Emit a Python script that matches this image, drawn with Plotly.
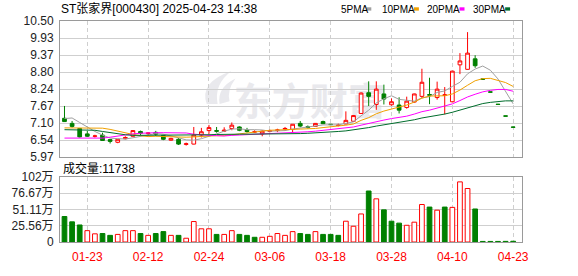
import plotly.graph_objects as go

# ---------------- data ----------------
dates = ["01-20", "01-21", "01-22", "01-23", "01-24", "01-27", "02-05", "02-06", "02-07", "02-10",
         "02-11", "02-12", "02-13", "02-14", "02-17", "02-18", "02-19", "02-20", "02-21", "02-24",
         "02-25", "02-26", "02-27", "02-28", "03-03", "03-04", "03-05", "03-06", "03-07", "03-10",
         "03-11", "03-12", "03-13", "03-14", "03-17", "03-18", "03-19", "03-20", "03-21", "03-24",
         "03-25", "03-26", "03-27", "03-28", "03-31", "04-01", "04-02", "04-03", "04-07", "04-08",
         "04-09", "04-10", "04-11", "04-15", "04-16", "04-17", "04-18", "04-21", "04-22", "04-23"]

open_ = [7.26, 7.09, 6.92, 6.74, 6.66, 6.70, 6.55, 6.46, 6.58, 6.66,
         6.82, 6.75, 6.79, 6.69, 6.53, 6.56, 6.39, 6.40, 6.70, 6.85,
         6.85, 6.83, 6.92, 6.97, 6.86, 6.80, 6.74, 6.82, 6.85, 6.90,
         6.89, 7.09, 6.98, 6.99, 7.15, 7.06, 7.02, 7.07, 7.16, 7.42,
         8.11, 7.72, 8.07, 7.71, 7.70, 7.62, 7.80, 7.99, 8.05, 7.95,
         8.02, 7.81, 9.04, 8.89, 9.24, 8.57, 8.14, 7.73, 7.34, 6.97]
high = [7.67, 7.17, 6.93, 6.84, 6.71, 6.78, 6.56, 6.56, 6.66, 6.86,
        6.85, 6.80, 6.84, 6.71, 6.61, 6.60, 6.45, 6.97, 6.94, 7.04,
        6.97, 6.96, 7.12, 6.99, 6.94, 6.86, 6.86, 6.88, 6.91, 6.97,
        7.06, 7.17, 7.02, 7.10, 7.18, 7.07, 7.08, 7.49, 7.37, 8.12,
        8.49, 8.49, 8.38, 7.92, 7.96, 7.98, 8.08, 8.91, 8.61, 8.48,
        8.30, 8.84, 9.43, 10.13, 9.36, 8.57, 8.14, 7.73, 7.34, 6.97]
low = [7.14, 6.95, 6.62, 6.64, 6.62, 6.51, 6.42, 6.43, 6.56, 6.65,
       6.70, 6.70, 6.67, 6.53, 6.51, 6.37, 6.35, 6.39, 6.62, 6.74,
       6.78, 6.80, 6.86, 6.83, 6.78, 6.77, 6.66, 6.79, 6.80, 6.86,
       6.79, 6.96, 6.92, 6.98, 7.07, 7.03, 6.99, 7.06, 7.15, 7.40,
       7.67, 7.54, 7.72, 7.68, 7.42, 7.58, 7.78, 7.93, 7.73, 7.88,
       7.39, 7.79, 8.73, 8.88, 8.94, 8.56, 8.13, 7.72, 7.33, 6.96]
close = [7.15, 6.99, 6.64, 6.66, 6.67, 6.52, 6.49, 6.56, 6.62, 6.85,
         6.76, 6.77, 6.73, 6.56, 6.59, 6.40, 6.41, 6.70, 6.81, 6.95,
         6.83, 6.86, 7.03, 6.86, 6.82, 6.81, 6.83, 6.84, 6.87, 6.92,
         7.06, 7.00, 6.96, 7.09, 7.08, 7.05, 7.03, 7.19, 7.35, 8.10,
         7.99, 8.23, 7.90, 7.81, 7.53, 7.83, 8.07, 8.46, 8.03, 8.23,
         8.04, 8.83, 9.17, 9.43, 9.01, 8.56, 8.13, 7.72, 7.33, 6.96]
close_before_first = 7.28

# volume in 万
volume = [40.0, 31.6, 26.7, 17.8, 12.8, 13.3, 10.4, 11.9, 17.8, 17.8,
          13.3, 10.4, 13.3, 16.3, 10.4, 10.4, 5.9, 32.1, 20.7, 20.7,
          11.9, 11.9, 17.8, 11.9, 10.4, 7.4, 7.4, 8.9, 13.3, 10.4,
          16.3, 13.3, 11.9, 16.3, 11.9, 11.9, 10.4, 32.6, 24.7, 44.0,
          80.0, 67.7, 50.4, 32.6, 29.6, 26.2, 31.1, 58.8, 54.8, 49.9,
          54.8, 54.3, 94.3, 83.9, 51.8, 0.9, 0.9, 0.9, 1.0, 1.17]

ma5 = [7.25, 7.27, 7.12, 6.97, 6.82, 6.70, 6.60, 6.58, 6.57, 6.61,
       6.66, 6.71, 6.75, 6.73, 6.68, 6.61, 6.54, 6.53, 6.58, 6.65,
       6.74, 6.83, 6.90, 6.91, 6.88, 6.88, 6.87, 6.83, 6.83, 6.85,
       6.90, 6.94, 6.96, 7.01, 7.04, 7.04, 7.04, 7.09, 7.14, 7.34,
       7.53, 7.77, 7.91, 8.01, 7.89, 7.86, 7.83, 7.94, 7.98, 8.12,
       8.17, 8.32, 8.46, 8.74, 8.90, 9.00, 8.86, 8.57, 8.15, 7.74]
ma10 = [6.94, 6.94, 6.94, 6.94, 6.94, 6.93, 6.89, 6.83, 6.77, 6.72,
        6.68, 6.65, 6.66, 6.65, 6.65, 6.63, 6.63, 6.64, 6.66, 6.67,
        6.68, 6.68, 6.71, 6.74, 6.77, 6.81, 6.85, 6.86, 6.87, 6.87,
        6.89, 6.90, 6.90, 6.92, 6.95, 6.97, 6.99, 7.03, 7.07, 7.19,
        7.28, 7.41, 7.50, 7.57, 7.62, 7.70, 7.80, 7.93, 8.00, 8.01,
        8.01, 8.07, 8.20, 8.36, 8.51, 8.58, 8.59, 8.52, 8.45, 8.32]
ma20 = [6.60, 6.60, 6.60, 6.60, 6.60, 6.60, 6.63, 6.67, 6.70, 6.74,
        6.76, 6.78, 6.78, 6.78, 6.78, 6.78, 6.77, 6.73, 6.70, 6.69,
        6.68, 6.67, 6.69, 6.70, 6.71, 6.72, 6.74, 6.75, 6.76, 6.77,
        6.78, 6.79, 6.81, 6.83, 6.86, 6.89, 6.92, 6.94, 6.97, 7.03,
        7.09, 7.16, 7.20, 7.25, 7.28, 7.33, 7.40, 7.48, 7.53, 7.60,
        7.65, 7.74, 7.85, 7.97, 8.06, 8.14, 8.19, 8.22, 8.22, 8.16]
ma30 = [6.88, 6.88, 6.88, 6.87, 6.86, 6.82, 6.78, 6.74, 6.71, 6.69,
        6.69, 6.69, 6.69, 6.69, 6.69, 6.69, 6.69, 6.71, 6.71, 6.71,
        6.72, 6.73, 6.73, 6.73, 6.73, 6.73, 6.74, 6.74, 6.74, 6.75,
        6.75, 6.75, 6.76, 6.77, 6.79, 6.80, 6.82, 6.84, 6.87, 6.91,
        6.95, 7.00, 7.04, 7.08, 7.11, 7.16, 7.21, 7.27, 7.31, 7.36,
        7.40, 7.46, 7.53, 7.62, 7.69, 7.75, 7.79, 7.82, 7.84, 7.84]

tick_dates = ["01-23", "02-12", "02-24", "03-06", "03-18", "03-28", "04-10", "04-23"]
price_ticktext = ["5.97", "6.54", "7.10", "7.67", "8.24", "8.80", "9.37", "9.93", "10.50"]
vol_ticktext = ["0", "25.56万", "51.11万", "76.67万", "102万"]
title_text = "ST张家界[000430] 2025-04-23 14:38"
vol_title = "成交量:11738"
ma_names = ["5PMA", "10PMA", "20PMA", "30PMA"]

# ---------------- style ----------------
RED = "#ff0000"
GREEN = "#008000"
MA_COLORS = ["#a0a0a0", "#f0a000", "#ff00ff", "#006d2c"]
GRID = "#cfcfcf"
BORDER = "#9a9a9a"
WATERMARK = "#e9e9ed"
FONT = "Liberation Sans, Arial, Noto Sans CJK SC, sans-serif"
W, H = 578, 276
L, R, T, B = 56, 56, 21, 21
PW, PH = W - L - R, H - T - B

def px_x(x):
    return (x - L) / PW

def px_y(y):
    return (H - B - y) / PH

def pt(x, y):
    return f"{px_x(x):.4f},{px_y(y):.4f}"

price_lo, price_hi = 5.97, 10.50
price_tickvals = [price_lo + i * (price_hi - price_lo) / 8 for i in range(9)]
vol_hi = 102.22
vol_tickvals = [i * vol_hi / 4 for i in range(5)]
xrange_ = [-0.59, 60.16]

fig = go.Figure()

fig.add_trace(go.Candlestick(
    x=dates, open=open_, high=high, low=low, close=close,
    increasing=dict(line=dict(color=RED, width=1), fillcolor="white"),
    decreasing=dict(line=dict(color=GREEN, width=1), fillcolor=GREEN),
    whiskerwidth=0, xaxis="x", yaxis="y", showlegend=False, hoverinfo="skip"))

for vals, col in zip([ma5, ma10, ma20, ma30], MA_COLORS):
    fig.add_trace(go.Scatter(x=dates, y=vals, mode="lines",
                             line=dict(color=col, width=1),
                             xaxis="x", yaxis="y", showlegend=False, hoverinfo="skip"))

prev_close = [close_before_first] + close[:-1]
up = [c >= p for c, p in zip(close, prev_close)]
fig.add_trace(go.Bar(
    x=dates, y=volume, width=0.62,
    marker=dict(color=["white" if u else GREEN for u in up],
                line=dict(color=[RED if u else GREEN for u in up], width=1)),
    xaxis="x2", yaxis="y2", showlegend=False, hoverinfo="skip"))

axis_common = dict(showline=True, mirror=True, linecolor=BORDER, linewidth=1,
                   zeroline=False, ticks="", showgrid=True, gridcolor=GRID, gridwidth=1)

fig.update_layout(
    width=W, height=H,
    margin=dict(l=L, r=R, t=T, b=B, pad=0),
    paper_bgcolor="white", plot_bgcolor="white",
    showlegend=False,
    font=dict(family=FONT, size=12, color="#222222"),
    xaxis=dict(type="category", range=xrange_, domain=[0, 1], anchor="y",
               tickvals=tick_dates, showticklabels=False, griddash="4px,3px",
               rangeslider=dict(visible=False), **axis_common),
    yaxis=dict(domain=[px_y(165), 1], range=[price_lo, price_hi], anchor="x",
               tickvals=price_tickvals, ticktext=price_ticktext,
               tickfont=dict(family=FONT, size=12, color="#222222"),
               ticklabelstandoff=3, **axis_common),
    xaxis2=dict(type="category", range=xrange_, domain=[0, 1], anchor="y2", matches="x",
                tickvals=tick_dates, ticktext=tick_dates, griddash="4px,3px",
                tickfont=dict(family=FONT, size=12, color=RED),
                ticklabelstandoff=4, **axis_common),
    yaxis2=dict(domain=[0, px_y(186)], range=[0, vol_hi], anchor="x2",
                tickvals=vol_tickvals, ticktext=vol_ticktext,
                tickfont=dict(family=FONT, size=12, color="#222222"),
                ticklabelstandoff=3, **axis_common),
)

annotations = [
    dict(text=title_text, xref="paper", yref="paper", x=px_x(55), y=px_y(8),
         xanchor="left", yanchor="middle", showarrow=False,
         font=dict(family=FONT, size=12, color="#000000")),
    dict(text=vol_title, xref="paper", yref="paper", x=px_x(57), y=px_y(177),
         xanchor="left", yanchor="middle", showarrow=False,
         font=dict(family=FONT, size=12, color="#000000")),
]
shapes = [
    # watermark text (below data)
    dict(type="rect", xref="paper", yref="paper", x0=px_x(236), x1=px_x(380),
         y0=px_y(130), y1=px_y(88), line=dict(width=0), fillcolor="rgba(0,0,0,0)",
         layer="below",
         label=dict(text="东方财富", textposition="middle center",
                    font=dict(family="Noto Sans CJK SC", size=38, color=WATERMARK, weight=700))),
    # watermark logo swoosh
    dict(type="path", xref="paper", yref="paper", layer="below", line=dict(width=0),
         fillcolor=WATERMARK,
         path=f"M {pt(204,109)} Q {pt(196,86)} {pt(229,74)} Q {pt(211,88)} {pt(215,109)} Z"),
    dict(type="path", xref="paper", yref="paper", layer="below", line=dict(width=0),
         fillcolor=WATERMARK,
         path=f"M {pt(217,109)} Q {pt(214,92)} {pt(233,82)} Q {pt(224,95)} {pt(227,106)} Z"),
]
text_left = [338, 380, 425, 472]
sq_left = [365, 413, 459, 505]
for name, col, tx, sx in zip(ma_names, MA_COLORS, text_left, sq_left):
    annotations.append(dict(text=name, xref="paper", yref="paper", x=px_x(tx - 1), y=px_y(8.5),
                            xanchor="left", yanchor="middle", showarrow=False,
                            font=dict(family=FONT, size=10, color="#000000")))
    shapes.append(dict(type="rect", xref="paper", yref="paper",
                       x0=px_x(sx), x1=px_x(sx + 5), y0=px_y(10), y1=px_y(6.5),
                       line=dict(width=0), fillcolor=col))

fig.update_layout(annotations=annotations, shapes=shapes)

fig.write_html("out.html")
